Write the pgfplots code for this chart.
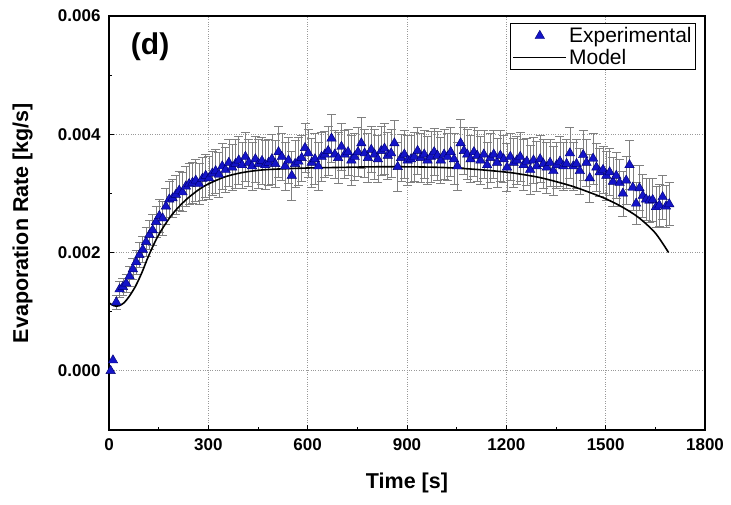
\documentclass[border=0pt]{standalone}
\usepackage{pgfplots}
\pgfplotsset{compat=1.18}
\usepackage{pgfplotstable}
\usepackage{fontspec}
\setmainfont{Liberation Sans}
\definecolor{triblue}{RGB}{20,20,200}
\definecolor{triedge}{RGB}{0,0,110}
\pgfplotsset{
  longline/.style={legend image code/.code={\draw[##1] (0pt,0pt) -- (53pt,0pt);}},
  longmark/.style={legend image code/.code={\draw[mark repeat=2,mark phase=2,##1] plot coordinates {(0pt,0pt) (26.5pt,0pt) (53pt,0pt)};}},
}

\pgfplotstableread{
t y e
22 0.00116 0.00012
32 0.00138 0.00014
42 0.00142 0.00015
52 0.00148 0.00016
62 0.00160 0.00017
72 0.00172 0.00018
82 0.00184 0.00020
92 0.00196 0.00021
102 0.00205 0.00022
112 0.00218 0.00024
122 0.00230 0.00025
132 0.00238 0.00026
142 0.00252 0.00027
152 0.00262 0.00028
162 0.00258 0.00028
172 0.00278 0.00030
182 0.00290 0.00031
192 0.00292 0.00032
202 0.00298 0.00033
212 0.00305 0.00033
222 0.00302 0.00033
232 0.00312 0.00034
242 0.00316 0.00035
252 0.00318 0.00035
262 0.00322 0.00035
272 0.00316 0.00035
282 0.00325 0.00036
292 0.00330 0.00036
302 0.00326 0.00036
312 0.00334 0.00037
322 0.00338 0.00037
332 0.00332 0.00038
342 0.00346 0.00039
352 0.00340 0.00038
362 0.00352 0.00040
372 0.00344 0.00039
382 0.00350 0.00041
392 0.00356 0.00040
402 0.00348 0.00039
412 0.00362 0.00042
422 0.00352 0.00040
432 0.00346 0.00041
442 0.00358 0.00039
452 0.00350 0.00042
462 0.00355 0.00040
472 0.00348 0.00041
482 0.00352 0.00039
492 0.00358 0.00042
502 0.00350 0.00040
512 0.00370 0.00043
522 0.00362 0.00040
532 0.00346 0.00041
542 0.00356 0.00039
552 0.00330 0.00042
562 0.00350 0.00040
572 0.00354 0.00041
582 0.00360 0.00039
592 0.00377 0.00042
602 0.00368 0.00040
612 0.00352 0.00041
622 0.00358 0.00043
632 0.00346 0.00040
642 0.00362 0.00041
652 0.00366 0.00039
662 0.00372 0.00042
672 0.00393 0.00040
682 0.00366 0.00041
692 0.00360 0.00043
702 0.00379 0.00040
712 0.00366 0.00041
722 0.00370 0.00039
732 0.00356 0.00042
742 0.00362 0.00040
752 0.00370 0.00041
762 0.00385 0.00043
772 0.00368 0.00040
782 0.00360 0.00041
792 0.00374 0.00039
802 0.00366 0.00042
812 0.00358 0.00040
822 0.00372 0.00041
832 0.00376 0.00043
842 0.00364 0.00040
852 0.00368 0.00041
862 0.00385 0.00039
872 0.00345 0.00042
882 0.00360 0.00040
892 0.00366 0.00041
902 0.00356 0.00043
912 0.00358 0.00040
922 0.00362 0.00041
932 0.00372 0.00039
942 0.00360 0.00042
952 0.00366 0.00040
962 0.00356 0.00041
972 0.00362 0.00043
982 0.00370 0.00040
992 0.00364 0.00041
1002 0.00356 0.00039
1012 0.00366 0.00042
1022 0.00362 0.00040
1032 0.00370 0.00041
1042 0.00358 0.00043
1052 0.00346 0.00040
1062 0.00385 0.00041
1072 0.00372 0.00039
1082 0.00366 0.00042
1092 0.00358 0.00040
1102 0.00370 0.00041
1112 0.00364 0.00043
1122 0.00356 0.00040
1132 0.00366 0.00041
1142 0.00348 0.00039
1152 0.00360 0.00042
1162 0.00366 0.00040
1172 0.00352 0.00041
1182 0.00364 0.00043
1192 0.00358 0.00040
1202 0.00344 0.00041
1212 0.00362 0.00039
1222 0.00352 0.00042
1232 0.00356 0.00040
1242 0.00362 0.00041
1252 0.00348 0.00043
1262 0.00354 0.00040
1272 0.00340 0.00041
1282 0.00356 0.00039
1292 0.00346 0.00042
1302 0.00358 0.00040
1312 0.00350 0.00041
1322 0.00344 0.00043
1332 0.00352 0.00040
1342 0.00338 0.00041
1352 0.00348 0.00039
1362 0.00354 0.00042
1372 0.00346 0.00040
1382 0.00350 0.00041
1392 0.00368 0.00043
1402 0.00346 0.00040
1412 0.00350 0.00041
1422 0.00338 0.00039
1432 0.00365 0.00042
1442 0.00352 0.00040
1452 0.00326 0.00041
1462 0.00359 0.00043
1472 0.00344 0.00040
1482 0.00336 0.00041
1492 0.00340 0.00039
1502 0.00330 0.00042
1512 0.00336 0.00040
1522 0.00320 0.00041
1532 0.00330 0.00039
1542 0.00318 0.00040
1552 0.00300 0.00038
1562 0.00322 0.00040
1572 0.00348 0.00041
1582 0.00310 0.00038
1592 0.00283 0.00036
1602 0.00309 0.00038
1612 0.00296 0.00037
1622 0.00290 0.00036
1632 0.00288 0.00037
1642 0.00289 0.00036
1652 0.00277 0.00035
1662 0.00280 0.00036
1672 0.00294 0.00037
1682 0.00278 0.00035
1692 0.00282 0.00036
}\expdata

\begin{document}
\begin{tikzpicture}
\begin{axis}[
  scale only axis, width=596pt, height=414pt,
  xmin=0, xmax=1800, ymin=-0.001, ymax=0.006,
  xtick={0,300,...,1800}, ytick={0,0.002,0.004,0.006},
  minor x tick num=1, minor y tick num=1,
  tick align=inside, xtick pos=bottom, ytick pos=left,
  major tick length=5pt, minor tick length=3pt,
  grid=major, grid style={black!40, dotted, line width=0.9pt},
  axis line style={line width=1.2pt},
  every tick/.style={black, line width=1pt},
  scaled y ticks=false,
  /pgf/number format/1000 sep={},
  yticklabel style={xshift=-5pt, /pgf/number format/fixed, /pgf/number format/fixed zerofill, /pgf/number format/precision=3},
  /pgf/number format/assume math mode=true,
  ticklabel style={font=\fontsize{17}{20}\selectfont\bfseries},
  xticklabel style={yshift=-5pt},
  xlabel={Time [s]}, ylabel={Evaporation Rate [kg/s]},
  label style={font=\fontsize{21.5}{24}\selectfont\bfseries},
  xlabel style={at={(axis description cs:0.5,-0.128)}, anchor=center},
  ylabel style={at={(axis description cs:-0.145,0.5)}, anchor=center},
  legend style={at={(rel axis cs:0.985,0.983)}, anchor=north east,
    draw=black, line width=0.8pt, font=\fontsize{21}{24}\selectfont,
    cells={anchor=west}, inner sep=2pt, row sep=1pt},
]
\addplot[only marks, mark=triangle*, mark size=5.5pt, longmark,
  mark options={fill=triblue, draw=triedge, line width=0.4pt},
  error bars/.cd, y dir=both, y explicit,
  error bar style={black!50, line width=0.6pt},
  error mark options={rotate=90, mark size=4.5pt, black!50, line width=0.6pt},
  ] table[x=t, y=y, y error=e] {\expdata};
\addlegendentry{Experimental}
\addplot[black, line width=1.6pt, smooth, tension=0.5, longline] coordinates {
(0,0.00115) (15,0.00110) (30,0.00110) (45,0.00115) (60,0.00125) (80,0.00143)
(100,0.00167) (120,0.00195) (150,0.00230) (190,0.00264) (230,0.00288)
(270,0.00306) (300,0.00316) (350,0.00328) (400,0.00335) (450,0.00339)
(500,0.00341) (600,0.00343) (700,0.00344) (800,0.00345) (900,0.00345)
(1000,0.00344) (1100,0.00341) (1200,0.00336) (1250,0.00332) (1300,0.00327)
(1350,0.00320) (1400,0.00312) (1450,0.00302) (1500,0.00291) (1550,0.00277)
(1600,0.00259) (1650,0.00233) (1690,0.00200)};
\addlegendentry{Model}
\addplot[only marks, mark=triangle*, mark size=5.5pt,
  mark options={fill=triblue, draw=triedge, line width=0.4pt}, forget plot]
  coordinates {(5,0.0000) (12,0.00018)};
\node at (rel axis cs:0.069,0.925) {\fontsize{30}{34}\selectfont\bfseries (d)};
\end{axis}
\path (current axis.south west) ++(-109pt,-75pt) rectangle ++(731pt,505pt);
\end{tikzpicture}
\end{document}
